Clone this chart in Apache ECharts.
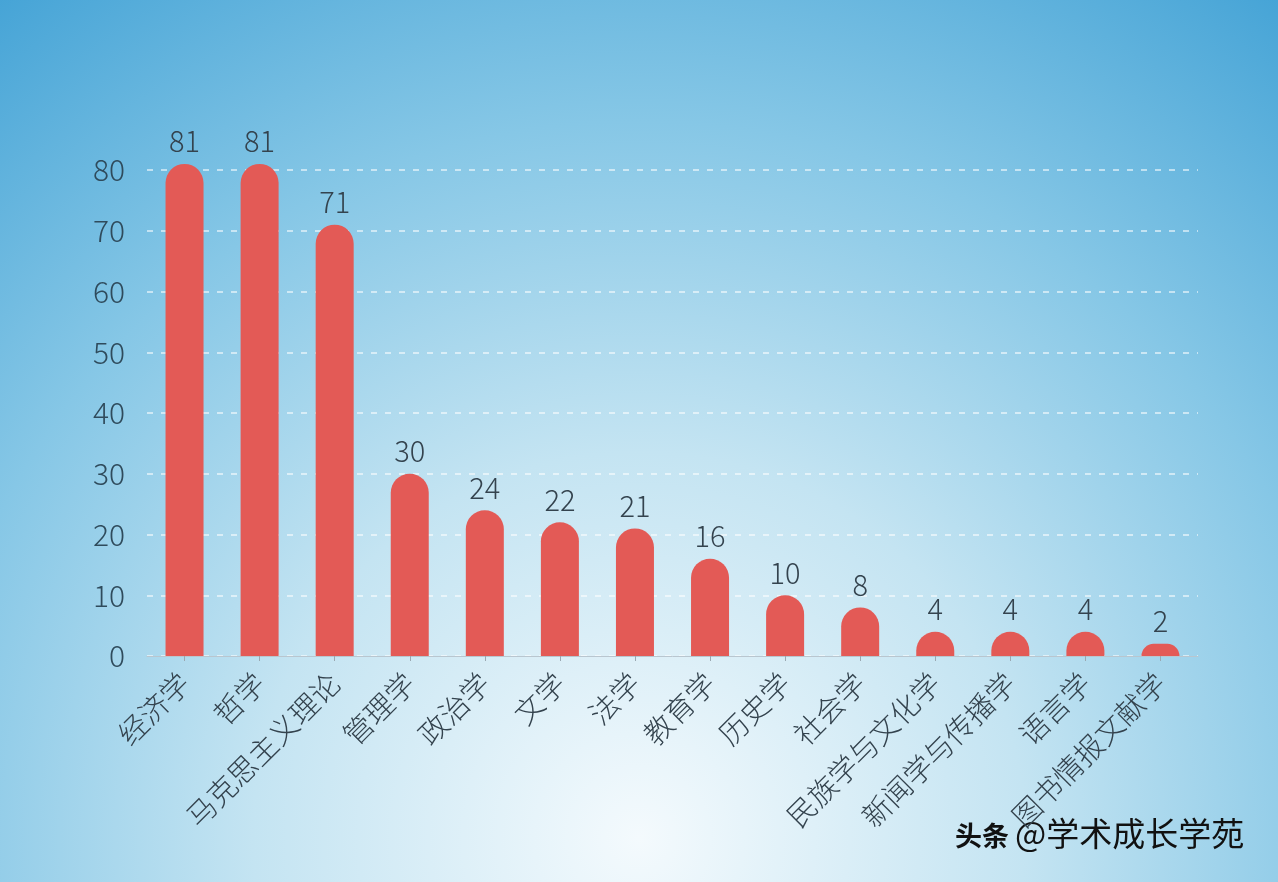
<!DOCTYPE html>
<html>
<head>
<meta charset="utf-8">
<style>html,body{margin:0;padding:0;}#c{width:1278px;height:882px;}</style>
<script src="https://cdn.jsdelivr.net/npm/echarts@6/dist/echarts.min.js"></script>
</head>
<body>
<div id="c"></div>
<script>
var categories = ['经济学','哲学','马克思主义理论','管理学','政治学','文学','法学','教育学','历史学','社会学','民族学与文化学','新闻学与传播学','语言学','图书情报文献学'];
var values = [81,81,71,30,24,22,21,16,10,8,4,4,4,2];
var yTicks = [0,10,20,30,40,50,60,70,80];

var font = '"Noto Sans CJK SC", "Noto Sans", sans-serif';
var chart = echarts.init(document.getElementById('c'));
chart.setOption({
  animation: false,
  backgroundColor: {
    type: 'radial', x: 0.5, y: 0.95, r: 1.25,
    colorStops: [
      {offset: 0, color: '#f4fafd'},
      {offset: 0.35, color: '#c4e4f2'},
      {offset: 0.65, color: '#86c7e6'},
      {offset: 1, color: '#3d9fd4'}
    ]
  },
  grid: {left: 147, right: 80, top: 170, bottom: 226, containLabel: false},
  xAxis: {
    type: 'category',
    data: categories,
    axisLine: {lineStyle: {color: '#b9c6cf', width: 1}},
    axisTick: {show: true, alignWithLabel: true, length: 5, lineStyle: {color: '#9aa8b2'}},
    axisLabel: {rotate: 45, interval: 0, fontSize: 29, fontWeight: 300, color: '#34434e', fontFamily: font, margin: 22}
  },
  yAxis: {
    type: 'value', min: 0, max: 80, interval: 10,
    axisLine: {show: false},
    axisTick: {show: false},
    axisLabel: {fontSize: 30, fontWeight: 300, color: '#2f4b5c', fontFamily: font, margin: 22,
      formatter: function(v){ return yTicks.indexOf(v) >= 0 ? String(v) : ''; }},
    splitLine: {show: true, lineStyle: {color: 'rgba(255,255,255,0.75)', type: [6, 8], width: 1.5}}
  },
  series: [{
    type: 'bar',
    data: values,
    barWidth: 38,
    clip: false,
    itemStyle: {color: '#e35a56', borderRadius: [19, 19, 0, 0]},
    label: {show: true, position: 'top', distance: 8, fontSize: 29, fontWeight: 300, color: '#34434e', fontFamily: font}
  }],
  graphic: [{
    type: 'text', left: 955, top: 822,
    style: {text: '头条', fontSize: 27, fontWeight: 'bold', fontFamily: font, fill: '#111',
      textShadowColor: 'rgba(255,255,255,0.95)', textShadowOffsetX: -2, textShadowOffsetY: -1, textShadowBlur: 0}
  }, {
    type: 'text', left: 1015, top: 817,
    style: {text: '@学术成长学苑', fontSize: 33, fontFamily: font, fill: '#111',
      textShadowColor: 'rgba(255,255,255,0.95)', textShadowOffsetX: -2, textShadowOffsetY: -1, textShadowBlur: 0}
  }]
});
</script>
</body>
</html>
